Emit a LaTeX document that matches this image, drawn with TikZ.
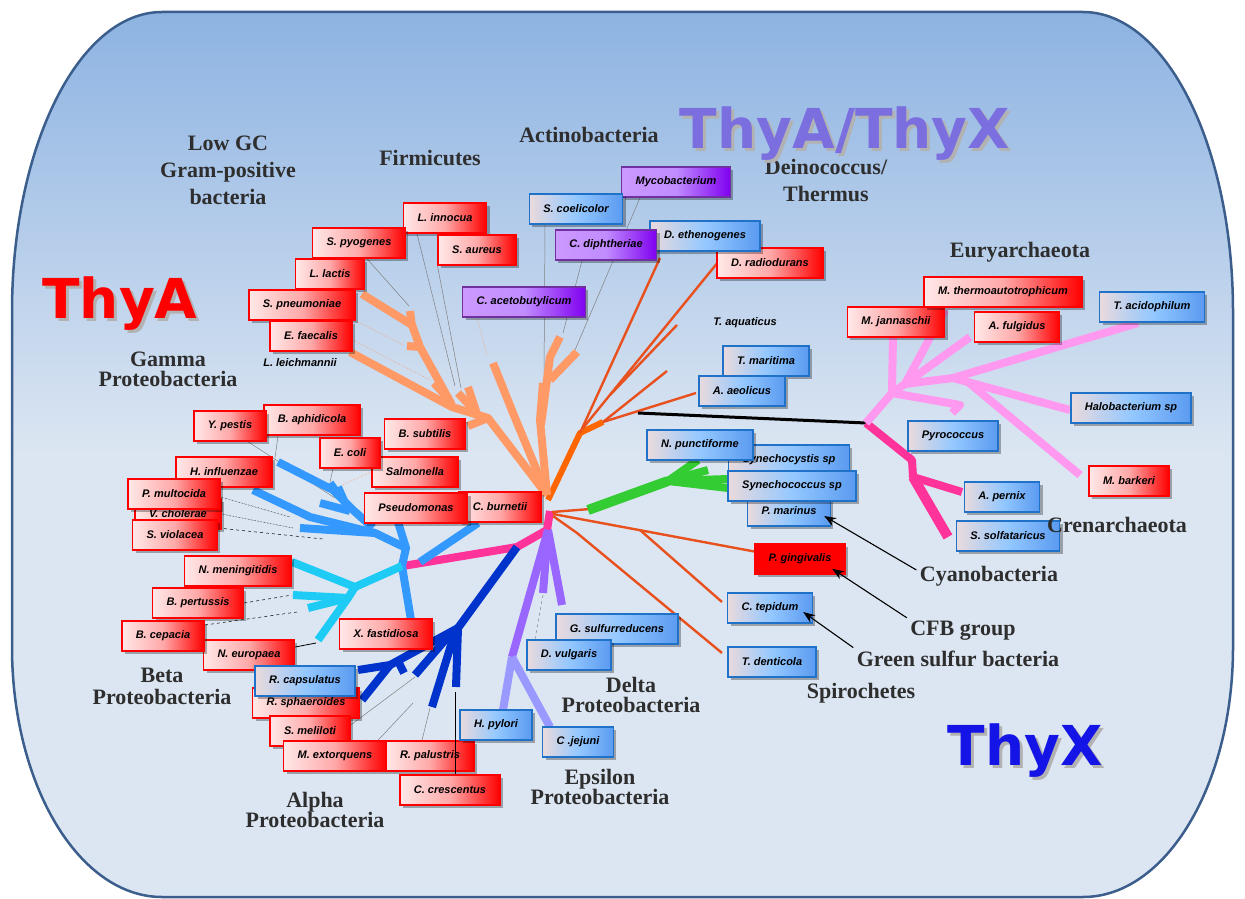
\documentclass[tikz,border=0pt]{standalone}
\usepackage{fontspec}
\setmainfont{Liberation Serif}
\setsansfont{Liberation Sans}
\newfontfamily\heavyfont{DejaVu Sans}
\usetikzlibrary{shadows,arrows.meta}

\definecolor{skytop}{HTML}{8DB3E2}
\definecolor{skylow}{HTML}{DCE6F2}
\definecolor{frame}{HTML}{3B5E8C}
\definecolor{boxred}{HTML}{FF0000}
\definecolor{redpale}{HTML}{FFE8E8}
\definecolor{redmid}{HTML}{FFA8A8}
\definecolor{blueedge}{HTML}{1F72C8}
\definecolor{bluepale}{HTML}{EADADC}
\definecolor{bluemid}{HTML}{94C8FF}
\definecolor{bluedeep}{HTML}{5A9AF0}
\definecolor{purpleedge}{HTML}{7030A0}
\definecolor{purplepale}{HTML}{CC99FF}
\definecolor{purplemid}{HTML}{C08CFF}
\definecolor{purpledeep}{HTML}{8000F0}
\definecolor{grouptext}{HTML}{2E2E2E}
\definecolor{salmon}{HTML}{FF9966}
\definecolor{tangerine}{HTML}{FF6600}
\definecolor{redline}{HTML}{E8501E}
\definecolor{hotpink}{HTML}{FF3399}
\definecolor{lilacpink}{HTML}{FF99F0}
\definecolor{gammablue}{HTML}{3399FF}
\definecolor{betacyan}{HTML}{1ECBF5}
\definecolor{alphablue}{HTML}{0033CC}
\definecolor{deltapurple}{HTML}{9966FF}
\definecolor{epsilonlilac}{HTML}{9999FF}
\definecolor{cyanogreen}{HTML}{33CC33}
\definecolor{thyxblue}{HTML}{1414E6}
\definecolor{bothblue}{HTML}{7B6FE0}

\pgfdeclarelayer{backdrop}
\pgfdeclarelayer{leaders}
\pgfsetlayers{backdrop,leaders,main}

\tikzset{
    species/.style={draw, line width=1.5pt, minimum height=30pt, inner xsep=14pt, inner ysep=0pt,
        font=\sffamily\bfseries\itshape\fontsize{11}{12}\selectfont,
        drop shadow={shadow xshift=3pt, shadow yshift=-3pt, opacity=0.3, fill=black}},
    thyabox/.style={species, draw=boxred, left color=redpale, right color=boxred, middle color=redmid},
    thyxbox/.style={species, draw=blueedge, left color=bluepale, right color=bluedeep, middle color=bluemid},
    bothbox/.style={species, draw=purpleedge, left color=purplepale, right color=purpledeep, middle color=purplemid},
    plainname/.style={font=\sffamily\bfseries\itshape\fontsize{11}{12}\selectfont},
    cladename/.style={font=\bfseries\fontsize{22}{20}\selectfont, text=grouptext, align=center},
    bigthy/.style={font=\heavyfont\bfseries\fontsize{55}{60}\selectfont, anchor=base},
    branch/.style={line width=8pt, line join=round},
    twig/.style={line width=2.4pt, redline, line join=round},
    leader/.style={line width=0.5pt, gray},
    faint/.style={line width=0.5pt, salmon, densely dotted},
    pointer/.style={-{Stealth[length=12pt,width=9pt]}, line width=1.1pt}
}

\begin{document}
\begin{tikzpicture}[x=1pt, y=-1pt]
    \useasboundingbox (0,0) rectangle (1245,899);
    \begin{pgfonlayer}{backdrop}
        \shadedraw[top color=skytop, bottom color=skylow, middle color=skylow, draw=frame, line width=2.5pt]
            (162,12) -- (1083,12) .. controls (1166,12) and (1233,146) .. (1233,312)
            -- (1233,647) .. controls (1233,785) and (1166,897) .. (1083,897)
            -- (162,897) .. controls (79,897) and (12,785) .. (12,647)
            -- (12,312) .. controls (12,146) and (79,12) .. (162,12) -- cycle;
    \end{pgfonlayer}

    % bacterial trunk
    \draw[branch, hotpink] (550,511) -- (547,530) -- (517,547) -- (403,566);
    \draw[branch, tangerine, line width=6pt] (548,500) -- (580,433) -- (603,422);

    % firmicutes and actinobacteria
    \draw[branch, salmon] (547,495) -- (513,413) -- (493,363);
    \draw[branch, salmon] (547,495) -- (488,418) -- (468,426);
    \draw[branch, salmon] (488,418) -- (452,407) -- (350,352);
    \draw[branch, salmon] (452,405) -- (420,347) -- (412,325) -- (362,294);
    \draw[branch, salmon] (412,327) -- (410,311);
    \draw[branch, salmon] (420,347) -- (407,346);
    \draw[branch, salmon] (445,395) -- (434,383);
    \draw[branch, salmon] (478,417) -- (468,387);
    \draw[branch, salmon] (474,410) -- (458,393);
    \draw[branch, salmon] (547,495) -- (540,420) -- (543,383);
    \draw[branch, salmon] (541,425) -- (550,357) -- (560,337);
    \draw[branch, salmon] (550,380) -- (577,352);

    % gamma
    \draw[branch, gammablue] (402,566) -- (406,548) -- (398,522);
    \draw[branch, gammablue] (406,548) -- (375,533) -- (300,528);
    \draw[branch, gammablue] (375,533) -- (310,517) -- (253,490);
    \draw[branch, gammablue] (373,528) -- (353,510) -- (333,490) -- (278,462);
    \draw[branch, gammablue] (350,511) -- (320,503);
    \draw[branch, gammablue] (340,497) -- (330,483);
    \draw[branch, gammablue] (345,503) -- (338,487);
    \draw[branch, gammablue] (420,562) -- (478,523);
    \draw[branch, gammablue] (402,566) -- (411,620);

    % beta
    \draw[branch, betacyan] (402,566) -- (355,587) -- (292,562);
    \draw[branch, betacyan] (355,587) -- (348,598) -- (318,640);
    \draw[branch, betacyan] (348,598) -- (293,595);
    \draw[branch, betacyan] (348,598) -- (308,608);

    % alpha
    \draw[branch, alphablue] (517,547) -- (458,628) -- (456,687);
    \draw[branch, alphablue] (458,628) -- (390,665) -- (358,670);
    \draw[branch, alphablue] (390,665) -- (362,700);
    \draw[branch, alphablue] (452,632) -- (415,675);
    \draw[branch, alphablue] (455,632) -- (432,707);
    \draw[branch, alphablue] (398,661) -- (404,673);

    % delta and epsilon
    \draw[branch, deltapurple] (548,530) -- (512,657);
    \draw[branch, deltapurple] (548,530) -- (543,593);
    \draw[branch, deltapurple] (548,530) -- (562,605);
    \draw[branch, epsilonlilac] (512,657) -- (503,710);
    \draw[branch, epsilonlilac] (512,657) -- (550,727);

    % thin lineages
    \draw[twig] (580,433) -- (660,258);
    \draw[twig] (583,428) -- (723,256);
    \draw[twig] (610,395) -- (677,325);
    \draw[twig] (603,422) -- (667,371);
    \draw[twig] (603,422) -- (696,393);
    \draw[twig] (552,512) -- (590,509);
    \draw[twig] (553,514) -- (757,552);
    \draw[twig] (640,530) -- (722,602);
    \draw[twig] (553,516) -- (577,533) -- (722,653);

    % cyanobacteria
    \draw[branch, cyanogreen, line width=10pt] (588,510) -- (668,481);
    \draw[branch, cyanogreen] (668,481) -- (698,460);
    \draw[branch, cyanogreen] (668,481) -- (708,470);
    \draw[branch, cyanogreen] (668,481) -- (728,479);
    \draw[branch, cyanogreen] (668,481) -- (728,488);

    % archaea
    \draw[line width=3pt] (638,413) -- (866,423);
    \draw[branch, hotpink] (866,423) -- (912,460) -- (913,477) -- (962,492);
    \draw[branch, hotpink, line width=10pt] (913,477) -- (948,537);
    \draw[branch, lilacpink] (866,423) -- (892,393) -- (893,335);
    \draw[branch, lilacpink] (892,393) -- (905,384) -- (945,310);
    \draw[branch, lilacpink] (905,384) -- (970,337);
    \draw[branch, lilacpink] (905,384) -- (953,378) -- (1138,323);
    \draw[branch, lilacpink] (953,378) -- (1070,410);
    \draw[branch, lilacpink] (968,382) -- (1080,475);
    \draw[branch, lilacpink] (892,393) -- (960,405) -- (952,413);

    % species
    \node[thyabox] (lInnocua) at (445,218) {L. innocua};
    \node[thyabox] (sPyogenes) at (359,243) {S. pyogenes};
    \node[thyabox] (sAureus) at (477,250) {S. aureus};
    \node[thyabox] (lLactis) at (330,274) {L. lactis};
    \node[thyabox] (sPneumoniae) at (302,305) {S. pneumoniae};
    \node[thyabox] (eFaecalis) at (311,336) {E. faecalis};
    \node[plainname] (lLeichmannii) at (300,363) {L. leichmannii};
    \node[thyabox] (bAphidicola) at (312,420) {B. aphidicola};
    \node[thyabox] (yPestis) at (230,426) {Y. pestis};
    \node[thyabox] (bSubtilis) at (425,434) {B. subtilis};
    \node[thyabox] (salmonella) at (415,472) {Salmonella};
    \node[thyabox] (eColi) at (350,453) {E. coli};
    \node[thyabox] (hInfluenzae) at (224,472) {H. influenzae};
    \node[thyabox] (vCholerae) at (178,514) {V. cholerae};
    \node[thyabox] (sViolacea) at (175,535) {S. violacea};
    \node[thyabox] (pMultocida) at (174,494) {P. multocida};
    \node[thyabox] (cBurnetii) at (500,507) {C. burnetii};
    \node[thyabox] (pseudomonas) at (416,508) {Pseudomonas};
    \node[thyabox] (nMeningitidis) at (238,571) {N. meningitidis};
    \node[thyabox] (bPertussis) at (198,603) {B. pertussis};
    \node[thyabox] (nEuropaea) at (249,655) {N. europaea};
    \node[thyabox] (bCepacia) at (163,636) {B. cepacia};
    \node[thyabox] (xFastidiosa) at (386,634) {X. fastidiosa};
    \node[thyabox] (rSphaeroides) at (306,703) {R. sphaeroides};
    \node[thyxbox] (rCapsulatus) at (305,681) {R. capsulatus};
    \node[thyabox] (sMeliloti) at (310,731) {S. meliloti};
    \node[thyabox] (mExtorquens) at (335,756) {M. extorquens};
    \node[thyabox] (rPalustris) at (430,756) {R. palustris};
    \node[thyabox] (cCrescentus) at (450,790) {C. crescentus};

    \node[bothbox] (mycobacterium) at (676,182) {Mycobacterium};
    \node[thyxbox] (sCoelicolor) at (576,209) {S. coelicolor};
    \node[thyabox] (dRadiodurans) at (770,263) {D. radiodurans};
    \node[thyxbox] (dEthenogenes) at (705,236) {D. ethenogenes};
    \node[bothbox] (cDiphtheriae) at (606,245) {C. diphtheriae};
    \node[bothbox] (cAcetobutylicum) at (524,302) {C. acetobutylicum};
    \node[plainname] (tAquaticus) at (745,323) {T. aquaticus};
    \node[thyxbox] (tMaritima) at (766,361) {T. maritima};
    \node[thyxbox] (aAeolicus) at (742,391) {A. aeolicus};

    \node[thyxbox] (synechocystis) at (789,460) {Synechocystis sp};
    \node[thyxbox] (nPunctiforme) at (700,445) {N. punctiforme};
    \node[thyxbox] (pMarinus) at (789,511) {P. marinus};
    \node[thyxbox] (synechococcus) at (792,486) {Synechococcus sp};
    \node[species, draw=boxred, fill=boxred, drop shadow={opacity=0}] (pGingivalis) at (800,559) {P. gingivalis};
    \node[thyxbox] (cTepidum) at (770,608) {C. tepidum};
    \node[thyxbox] (tDenticola) at (772,662) {T. denticola};
    \node[thyxbox] (gSulfurreducens) at (617,629) {G. sulfurreducens};
    \node[thyxbox] (dVulgaris) at (569,655) {D. vulgaris};
    \node[thyxbox] (hPylori) at (496,725) {H. pylori};
    \node[thyxbox] (cJejuni) at (578,742) {C .jejuni};

    \node[thyabox] (mJannaschii) at (896,322) {M. jannaschii};
    \node[thyabox] (mThermo) at (1003,292) {M. thermoautotrophicum};
    \node[thyabox] (aFulgidus) at (1017,327) {A. fulgidus};
    \node[thyxbox] (tAcidophilum) at (1152,307) {T. acidophilum};
    \node[thyxbox] (halobacterium) at (1131,408) {Halobacterium sp};
    \node[thyxbox] (pyrococcus) at (953,436) {Pyrococcus};
    \node[thyabox] (mBarkeri) at (1129,481) {M. barkeri};
    \node[thyxbox] (aPernix) at (1002,497) {A. pernix};
    \node[thyxbox] (sSolfataricus) at (1008,536) {S. solfataricus};

    % leader lines from the boxes to their tips
    \begin{pgfonlayer}{leaders}
        \draw[leader] ([xshift=8pt]sPyogenes.south) -- (409,306);
        \draw[leader] ([xshift=-28pt]lInnocua.south) -- (455,386);
        \draw[leader] (sAureus.south west) -- (461,388);
        \draw[faint] (sPneumoniae.south east) -- (403,345);
        \draw[faint] ([yshift=-4pt]eFaecalis.east) -- (430,380);
        \draw[faint] ([xshift=-47pt]cAcetobutylicum.south) -- (487,355);
        \draw[leader] ([xshift=-31pt]sCoelicolor.south) -- (544,380);
        \draw[leader] ([xshift=-24pt]cDiphtheriae.south) -- (563,333);
        \draw[leader] ([xshift=-36pt]mycobacterium.south) -- (575,350);
        \draw[leader] ([xshift=18pt]yPestis.south) -- (335,498);
        \draw[leader] ([xshift=-34pt]bAphidicola.south) -- (275,458);
        \draw[leader] ([xshift=-17pt]eColi.south) -- (330,482);
        \draw[faint] (salmonella.west) -- (342,485);
        \draw[leader, densely dotted, black] ([yshift=-3pt]pMultocida.east) -- (290,517);
        \draw[leader, densely dotted, black] (vCholerae.east) -- (293,528);
        \draw[leader, dashed, black] ([yshift=7pt]sViolacea.east) -- (323,539);
        \draw[leader, dashed, black] (bPertussis.east) -- (292,595);
        \draw[leader, dashed, black] ([yshift=11pt]bCepacia.east) -- (297,612);
        \draw[leader] ([yshift=6pt]sMeliloti.east) -- (415,677);
        \draw[leader] ([xshift=43pt]mExtorquens.north) -- (413,703);
        \draw[leader] ([xshift=-8pt]rPalustris.north) -- (430,708);
        \draw[leader, dashed] ([xshift=-34pt]dVulgaris.north) -- (543,595);
    \end{pgfonlayer}
    \draw[line width=0.8pt] ([yshift=8pt]nEuropaea.east) -- (316,643);
    \draw[line width=1pt] (455,692) -- ([xshift=5pt]cCrescentus.north);

    % clade names
    \node[cladename, font=\bfseries\fontsize{22}{27}\selectfont] (lowGC) at (228,170) {Low GC\\Gram-positive\\bacteria};
    \node[cladename] (firmicutes) at (430,158) {Firmicutes};
    \node[cladename] (actino) at (589,135) {Actinobacteria};
    \node[cladename, font=\bfseries\fontsize{22}{27}\selectfont] (deino) at (826,181) {Deinococcus/\\Thermus};
    \node[cladename] (eury) at (1020,252) {Euryarchaeota};
    \node[cladename] (gammaLab) at (168,369) {Gamma\\Proteobacteria};
    \node[cladename, font=\bfseries\fontsize{22}{22}\selectfont] (betaLab) at (162,686) {Beta\\Proteobacteria};
    \node[cladename] (alphaLab) at (315,810) {Alpha\\Proteobacteria};
    \node[cladename] (deltaLab) at (631,695) {Delta\\Proteobacteria};
    \node[cladename] (epsilonLab) at (600,787) {Epsilon\\Proteobacteria};
    \node[cladename] (cyanoLab) at (989,576) {Cyanobacteria};
    \node[cladename] (cfbLab) at (963,631) {CFB group};
    \node[cladename] (greenLab) at (958,659) {Green sulfur bacteria};
    \node[cladename] (spiroLab) at (861,693) {Spirochetes};
    \node[cladename] (crenLab) at (1117,525) {Crenarchaeota};

    \draw[pointer] ([yshift=6pt]cyanoLab.west) -- ([xshift=-7pt,yshift=-5pt]pMarinus.east);
    \draw[pointer] (cfbLab.north west) -- ([xshift=-14pt,yshift=6pt]pGingivalis.south east);
    \draw[pointer] (greenLab.north west) -- ([xshift=-10pt,yshift=-4pt]cTepidum.east);

    % enzyme headings
    \node[bigthy, text=gray!60] at (123,321) {ThyA};
    \node[bigthy, text=boxred] (thyA) at (120,318) {ThyA};
    \node[bigthy, text=gray!60] at (848,151) {ThyA/ThyX};
    \node[bigthy, text=bothblue] (thyAX) at (845,148) {ThyA/ThyX};
    \node[bigthy, text=gray!60] at (1028,768) {ThyX};
    \node[bigthy, text=thyxblue] (thyX) at (1025,765) {ThyX};
\end{tikzpicture}
\end{document}
